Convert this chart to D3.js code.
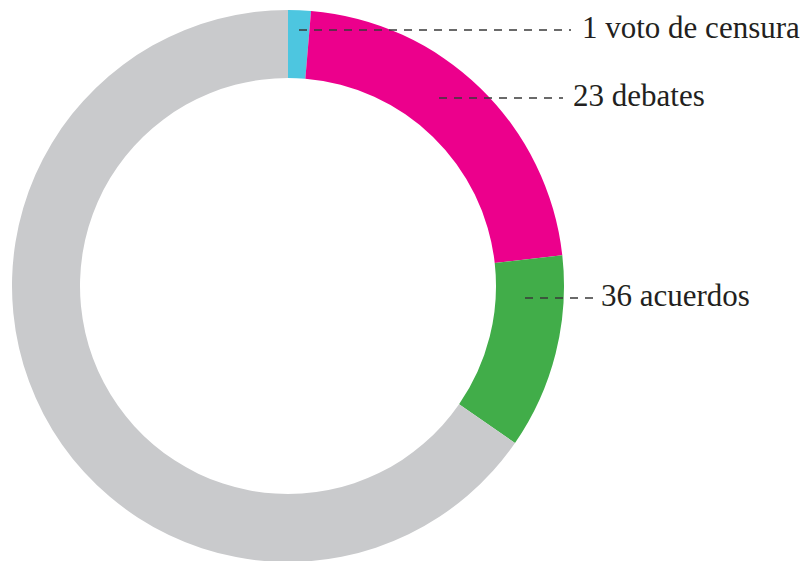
<!DOCTYPE html>
<html>
<head>
<meta charset="utf-8">
<script src="https://cdn.jsdelivr.net/npm/d3@7/dist/d3.min.js"></script>
<style>
  html, body { margin: 0; padding: 0; background: #fff; }
  svg { display: block; }
  .lbl { font-family: "Liberation Serif", "Times New Roman", serif; font-size: 31px; fill: #231f20; }
  .leader { stroke: #3a3a3a; stroke-width: 1.4; stroke-dasharray: 8 7; fill: none; }
</style>
</head>
<body>
<div id="chart"></div>
<script>
// share of the ring (percent), clockwise from 12 o'clock
const segments = ["censura", "debates", "acuerdos", "resto"];
const shares   = [1.33, 21.9, 11.4, 65.37];
const colours  = ["#4dc6e0", "#ec008c", "#41ad49", "#c9cacc"];

const labels = ["1 voto de censura", "23 debates", "36 acuerdos"];

// annotation layout (pixels): dashed leader from x0 to x1 at y, text at tx
const labelLayout = [
  { x0: 299, x1: 571, y: 30,  tx: 582 },
  { x0: 439, x1: 563, y: 98,  tx: 573 },
  { x0: 525, x1: 599, y: 298, tx: 601 }
];

const fullW = 804, fullH = 561;
const cx = 288, cy = 286, outerR = 276, innerR = 208;

const svg = d3.select("#chart")
  .append("svg")
  .attr("width", fullW)
  .attr("height", fullH);

const pie = d3.pie().sort(null).value(d => d.value);
const arc = d3.arc().innerRadius(innerR).outerRadius(outerR);

const data = segments.map((s, i) => ({ key: s, value: shares[i], colour: colours[i] }));

const g = svg.append("g").attr("transform", `translate(${cx},${cy})`);

g.selectAll("path")
  .data(pie(data))
  .join("path")
  .attr("d", arc)
  .attr("fill", d => d.data.colour);

// leaders + labels
const ann = svg.append("g");
labels.forEach((t, i) => {
  const L = labelLayout[i];
  ann.append("line")
    .attr("class", "leader")
    .attr("x1", L.x0).attr("x2", L.x1)
    .attr("y1", L.y).attr("y2", L.y);
  ann.append("text")
    .attr("class", "lbl")
    .attr("x", L.tx)
    .attr("y", L.y + 8)
    .text(t);
});
</script>
</body>
</html>
